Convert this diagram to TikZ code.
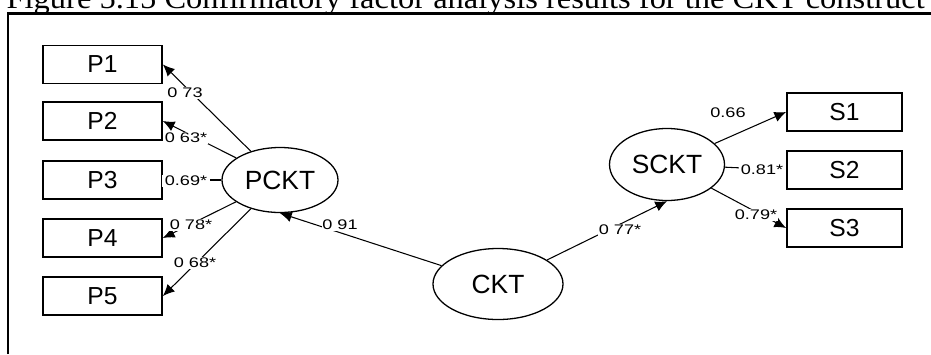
\documentclass[tikz,border=0pt]{standalone}
\usepackage{fontspec}
\setmainfont{Liberation Serif}
\newfontfamily\boxfont{Liberation Sans}
\newfontfamily\wtfont[FakeStretch=1.3]{Liberation Sans}
\usetikzlibrary{shapes.geometric,arrows.meta}

\begin{document}
\begin{tikzpicture}[x=0.03cm,y=-0.03cm,
	item/.style={draw,line width=1.5pt,minimum width=3.57cm,minimum height=1.14cm,inner sep=0pt,font=\boxfont\fontsize{21}{21}\selectfont},
	factor/.style={draw,ellipse,line width=1.1pt,inner sep=0pt,font=\boxfont\fontsize{22.5}{22}\selectfont},
	load/.style={line width=0.9pt,-{Latex[length=10pt,width=9pt]}},
	weight/.style={fill=white,inner sep=0.5pt,font=\wtfont\fontsize{11.9}{12}\selectfont}]
	\useasboundingbox (0,0) rectangle (931,354);
	\node[anchor=base east,inner sep=0pt] (cap) at (925,8) {\resizebox{27.54cm}{\height}{\fontsize{26}{26}\selectfont Figure 5.15 Confirmatory factor analysis results for the CKT construct}};
	\draw[line width=1.8pt] (8,354) |- (931,13.5);

	\node[item] (P1) at (102.5,64.5) {P1};
	\node[item] (P2) at (102.5,121) {P2};
	\node[item] (P3) at (102.5,180) {P3};
	\node[item] (P4) at (102.5,238) {P4};
	\node[item] (P5) at (102.5,296) {P5};
	\node[item,minimum width=3.45cm] (S1) at (844.5,112) {S1};
	\node[item,minimum width=3.45cm] (S2) at (844.5,170) {S2};
	\node[item,minimum width=3.45cm] (S3) at (844.5,228) {S3};

	\node[factor,minimum width=3.48cm,minimum height=1.95cm] (PCKT) at (280,180) {PCKT};
	\node[factor,minimum width=3.45cm,minimum height=2.16cm] (SCKT) at (667,164.5) {SCKT};
	\node[factor,minimum width=3.9cm,minimum height=2.13cm] (CKT) at (498,284) {CKT};

	\draw[load] (PCKT) -- (P1.east);
	\draw[load] (PCKT) -- (P2.east);
	\draw[load] (PCKT) -- (P3.east);
	\draw[load] (PCKT) -- (P4.east);
	\draw[load] (PCKT) -- (P5.east);
	\draw[load] (CKT) -- (PCKT.south);
	\draw[load] (CKT) -- (SCKT.south);
	\draw[load] (SCKT) -- (S1.west);
	\draw[load] (SCKT) -- (S2.west);
	\draw[load] (SCKT) -- (S3.west);

	\node[weight] (w1) at (185,93) {0 73};
	\node[weight] (w2) at (186,138) {0 63*};
	\node[weight,inner xsep=2pt] (w3) at (186,181) {0.69*};
	\node[weight] (w4) at (191,225) {0 78*};
	\node[weight] (w5) at (195,263) {0 68*};
	\node[weight] (w6) at (340,225) {0 91};
	\node[weight] (w7) at (620,230) {0 77*};
	\node[weight] (w8) at (728,113) {0.66};
	\node[weight,inner xsep=2pt] (w9) at (762,170) {0.81*};
	\node[weight] (w10) at (756,215) {0.79*};
\end{tikzpicture}
\end{document}
